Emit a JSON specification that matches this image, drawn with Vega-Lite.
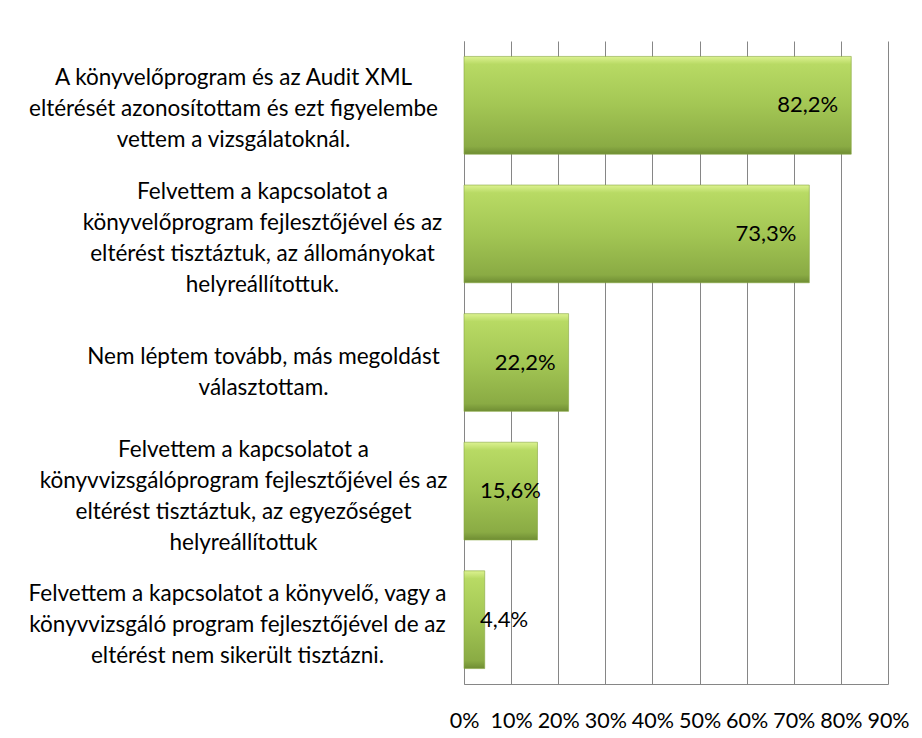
{
  "$schema": "https://vega.github.io/schema/vega-lite/v6.json",
  "width": 424,
  "height": 643,
  "autosize": "none",
  "padding": {"left": 464, "top": 41, "right": 34, "bottom": 54},
  "background": "white",
  "config": {
    "locale": {"number": {"decimal": ",", "thousands": " ", "grouping": [3], "currency": ["", " Ft"]}},
    "view": {"stroke": null},
    "font": "Lato"
  },
  "data": {
    "values": [
      {"label": "A könyvelőprogram és az Audit XML|eltérését azonosítottam  és ezt figyelembe|vettem a vizsgálatoknál.", "value": 0.822},
      {"label": "Felvettem a kapcsolatot  a|könyvelőprogram fejlesztőjével és az|eltérést tisztáztuk,  az állományokat|helyreállítottuk.", "value": 0.733},
      {"label": "Nem léptem tovább,  más megoldást|választottam.", "value": 0.222},
      {"label": "Felvettem a kapcsolatot  a|könyvvizsgálóprogram fejlesztőjével és az|eltérést tisztáztuk,  az egyezőséget|helyreállítottuk", "value": 0.156},
      {"label": "Felvettem a kapcsolatot  a könyvelő, vagy a|könyvvizsgáló program fejlesztőjével de az|eltérést nem sikerült tisztázni.", "value": 0.044}
    ]
  },
  "encoding": {
    "y": {
      "field": "label",
      "type": "nominal",
      "sort": null,
      "scale": {"paddingInner": 0.24, "paddingOuter": 0.12},
      "axis": {
        "title": null,
        "domain": true,
        "domainColor": "#868686",
        "ticks": false,
        "labelExpr": "split(datum.label, '|')",
        "labelAlign": "center",
        "labelBaseline": "middle",
        "labelPadding": {
          "condition": [
            {"test": "indexof(datum.value, 'A könyvelőprogram') === 0", "value": 231},
            {"test": "indexof(datum.value, 'a|könyvelőprogram') >= 0", "value": 202},
            {"test": "indexof(datum.value, 'Nem léptem') === 0", "value": 201},
            {"test": "indexof(datum.value, 'könyvvizsgálóprogram') >= 0", "value": 221}
          ],
          "value": 227
        },
        "labelOffset": {
          "condition": [
            {"test": "indexof(datum.value, 'A könyvelőprogram') === 0", "value": -27},
            {"test": "indexof(datum.value, 'a|könyvelőprogram') >= 0", "value": -42},
            {"test": "indexof(datum.value, 'Nem léptem') === 0", "value": -6},
            {"test": "indexof(datum.value, 'könyvvizsgálóprogram') >= 0", "value": -41}
          ],
          "value": -26
        },
        "labelLineHeight": 31,
        "labelFontSize": 22.5,
        "labelColor": "black",
        "labelLimit": 0
      }
    }
  },
  "layer": [
    {
      "mark": {
        "type": "bar",
        "fill": {
          "gradient": "linear", "x1": 0, "y1": 0, "x2": 0, "y2": 1,
          "stops": [
            {"offset": 0, "color": "#dcf290"},
            {"offset": 0.08, "color": "#b8da64"},
            {"offset": 0.5, "color": "#a3c654"},
            {"offset": 0.92, "color": "#8aab44"},
            {"offset": 1, "color": "#6f8d33"}
          ]
        },
        "stroke": "#86a640",
        "strokeWidth": 0.6
      },
      "encoding": {
        "x": {
          "field": "value",
          "type": "quantitative",
          "scale": {"domain": [0, 0.9], "nice": false},
          "axis": {
            "title": null,
            "format": ".0%",
            "values": [0, 0.1, 0.2, 0.3, 0.4, 0.5, 0.6, 0.7, 0.8, 0.9],
            "grid": true,
            "gridColor": "#868686",
            "gridOpacity": 1,
            "ticks": false,
            "domainColor": "#868686",
            "labelFontSize": 21.5,
            "labelPadding": 26,
            "labelColor": "black",
            "labelFlush": false
          }
        }
      }
    },
    {
      "transform": [{"filter": "datum.value >= 0.2"}],
      "mark": {"type": "text", "align": "right", "baseline": "middle", "dx": -13, "fontSize": 22, "color": "black"},
      "encoding": {
        "x": {"field": "value", "type": "quantitative"},
        "text": {"field": "value", "type": "quantitative", "format": ".1%"}
      }
    },
    {
      "transform": [{"filter": "datum.value < 0.2"}],
      "mark": {"type": "text", "align": "left", "baseline": "middle", "dx": 16, "fontSize": 22, "color": "black"},
      "encoding": {
        "x": {"datum": 0, "type": "quantitative"},
        "text": {"field": "value", "type": "quantitative", "format": ".1%"}
      }
    }
  ]
}
